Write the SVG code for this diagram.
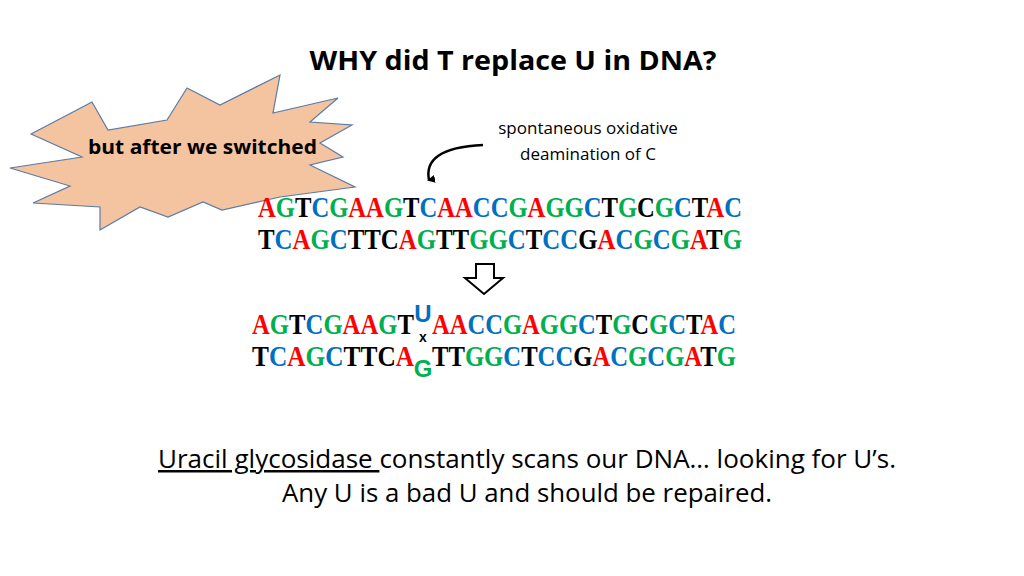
<svg xmlns="http://www.w3.org/2000/svg" width="1024" height="576" viewBox="0 0 1024 576">
<style>
.s{font-family:"Open Sans","Liberation Sans",sans-serif}
.d{font-family:"Liberation Serif","DejaVu Serif",serif;font-weight:bold;font-size:30px}
.a{fill:#FF0000}.g{fill:#00B050}.c{fill:#0070C0}.t{fill:#000}
</style>
<defs><marker id="ah" markerWidth="8" markerHeight="8" refX="4" refY="6" orient="auto" markerUnits="userSpaceOnUse" viewBox="0 0 8 8"><path d="M0,0 L4,8 L8,0 Z" fill="#000"/></marker></defs>
<rect width="1024" height="576" fill="#fff"/>
<g id="title"><text x="513" y="70" text-anchor="middle" class="s" font-size="26" font-weight="bold" textLength="407" lengthAdjust="spacingAndGlyphs">WHY did T replace U in DNA?</text></g>
<g id="burst">
<path d="M31,134 L92,102 L108,130 L167,120 L187,88 L220,105 L280,75 L273,113 L338,98 L310,122 L352,125 L320,143 L343,157 L310,165 L355,187 L280,197 L222,210 L203,202 L168,217 L140,207 L100,230 L100,207 L33,203 L70,186 L10,168 L82,157 Z" fill="#F4C3A0" stroke="#5B7BA6" stroke-width="1.2"/>
<text x="88" y="154" class="s" font-size="20" font-weight="bold" textLength="229" lengthAdjust="spacingAndGlyphs">but after we switched</text>
</g>
<g id="note">
<text x="588" y="134" text-anchor="middle" class="s" font-size="17">spontaneous oxidative</text>
<text x="588" y="160" text-anchor="middle" class="s" font-size="17">deamination of C</text>
</g>
<g id="connectors">
<path d="M483,145 C440,147 425,160 429,180" fill="none" stroke="#000" stroke-width="2.5" marker-end="url(#ah)"/>
<path d="M476,264 L494,264 L494,278 L503,278 L484,294 L465,278 L476,278 Z" fill="#fff" stroke="#000" stroke-width="2"/>
</g>
<g id="dna1" class="d">
<text x="258" y="217" textLength="484" lengthAdjust="spacingAndGlyphs"><tspan class="a">A</tspan><tspan class="g">G</tspan><tspan class="t">T</tspan><tspan class="c">C</tspan><tspan class="g">G</tspan><tspan class="a">AA</tspan><tspan class="g">G</tspan><tspan class="t">T</tspan><tspan class="c">C</tspan><tspan class="a">AA</tspan><tspan class="c">CC</tspan><tspan class="g">G</tspan><tspan class="a">A</tspan><tspan class="g">GG</tspan><tspan class="c">C</tspan><tspan class="t">T</tspan><tspan class="g">G</tspan><tspan class="t">C</tspan><tspan class="g">G</tspan><tspan class="c">C</tspan><tspan class="t">T</tspan><tspan class="a">A</tspan><tspan class="c">C</tspan></text>
<text x="258" y="249" textLength="484" lengthAdjust="spacingAndGlyphs"><tspan class="t">T</tspan><tspan class="c">C</tspan><tspan class="a">A</tspan><tspan class="g">G</tspan><tspan class="c">C</tspan><tspan class="t">TTC</tspan><tspan class="a">A</tspan><tspan class="g">G</tspan><tspan class="t">TT</tspan><tspan class="g">GG</tspan><tspan class="c">C</tspan><tspan class="t">T</tspan><tspan class="c">CC</tspan><tspan class="t">G</tspan><tspan class="a">A</tspan><tspan class="c">C</tspan><tspan class="g">G</tspan><tspan class="c">C</tspan><tspan class="g">G</tspan><tspan class="a">A</tspan><tspan class="t">T</tspan><tspan class="g">G</tspan></text>
</g>
<g id="dna2" class="d">
<text x="252" y="334" textLength="162" lengthAdjust="spacingAndGlyphs"><tspan class="a">A</tspan><tspan class="g">G</tspan><tspan class="t">T</tspan><tspan class="c">C</tspan><tspan class="g">G</tspan><tspan class="a">AA</tspan><tspan class="g">G</tspan><tspan class="t">T</tspan></text>
<text x="423" y="322" text-anchor="middle" class="c" font-family="Liberation Sans,sans-serif" font-size="24" font-weight="bold">U</text>
<text x="423" y="342" text-anchor="middle" class="t" font-family="Liberation Sans,sans-serif" font-size="14" font-weight="bold">x</text>
<text x="432" y="334" textLength="304" lengthAdjust="spacingAndGlyphs"><tspan class="a">AA</tspan><tspan class="c">CC</tspan><tspan class="g">G</tspan><tspan class="a">A</tspan><tspan class="g">GG</tspan><tspan class="c">C</tspan><tspan class="t">T</tspan><tspan class="g">G</tspan><tspan class="t">C</tspan><tspan class="g">G</tspan><tspan class="c">C</tspan><tspan class="t">T</tspan><tspan class="a">A</tspan><tspan class="c">C</tspan></text>
<text x="252" y="366" textLength="162" lengthAdjust="spacingAndGlyphs"><tspan class="t">T</tspan><tspan class="c">C</tspan><tspan class="a">A</tspan><tspan class="g">G</tspan><tspan class="c">C</tspan><tspan class="t">TTC</tspan><tspan class="a">A</tspan></text>
<text x="423" y="377" text-anchor="middle" class="g" font-family="Liberation Sans,sans-serif" font-size="24" font-weight="bold">G</text>
<text x="432" y="366" textLength="304" lengthAdjust="spacingAndGlyphs"><tspan class="t">TT</tspan><tspan class="g">GG</tspan><tspan class="c">C</tspan><tspan class="t">T</tspan><tspan class="c">CC</tspan><tspan class="t">G</tspan><tspan class="a">A</tspan><tspan class="c">C</tspan><tspan class="g">G</tspan><tspan class="c">C</tspan><tspan class="g">G</tspan><tspan class="a">A</tspan><tspan class="t">T</tspan><tspan class="g">G</tspan></text>
</g>
<g id="caption" class="s" font-size="25">
<text x="158" y="468" textLength="738" lengthAdjust="spacingAndGlyphs"><tspan text-decoration="underline">Uracil glycosidase </tspan>constantly scans our DNA… looking for U’s.</text>
<text x="527" y="502" text-anchor="middle" textLength="490" lengthAdjust="spacingAndGlyphs">Any U is a bad U and should be repaired.</text>
</g>
</svg>
